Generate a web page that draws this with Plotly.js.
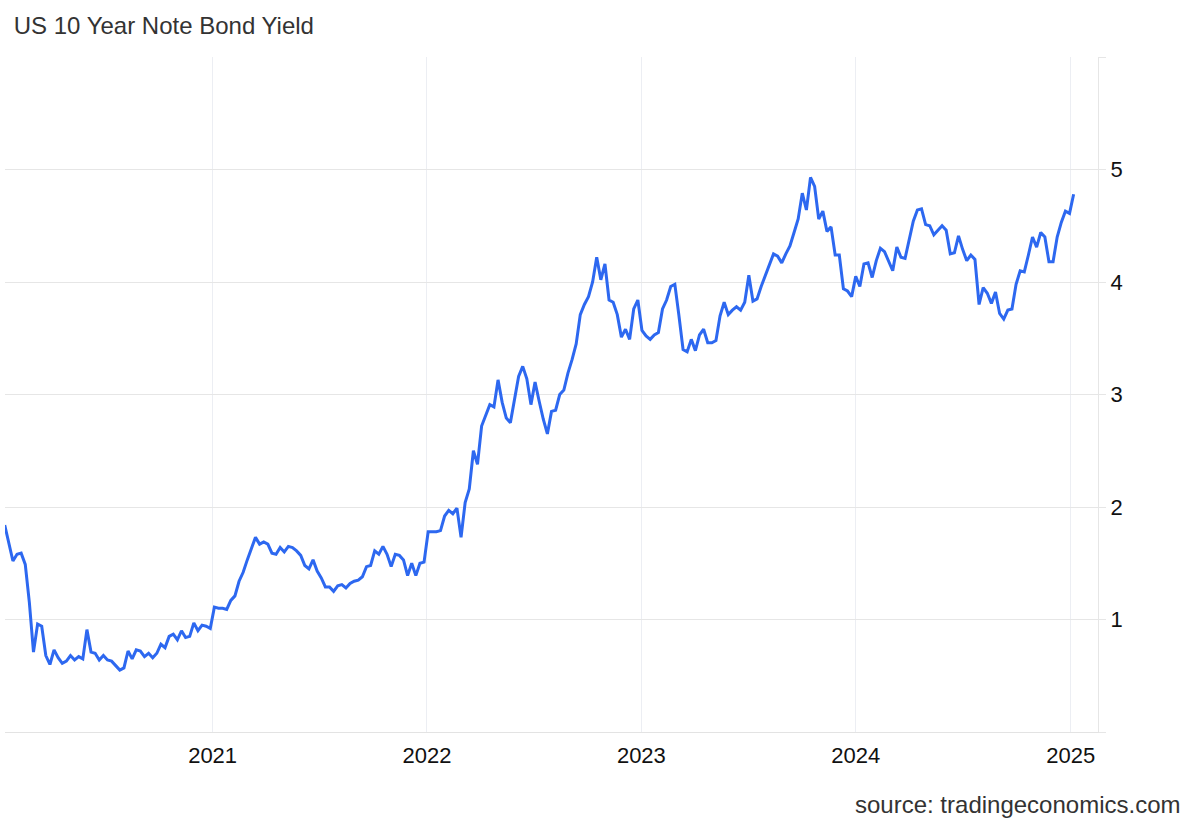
<!DOCTYPE html>
<html>
<head>
<meta charset="utf-8">
<script src="https://cdn.plot.ly/plotly-3.0.1.min.js"></script>
<style>
  html, body { margin: 0; padding: 0; background: #ffffff; }
  #chart { width: 1182px; height: 819px; }
</style>
</head>
<body>
<div id="chart"></div>
<script>
// Weekly US 10Y yield (%), first week starting 2020-01-13
const y2020 = [1.84,1.68,1.52,1.58,1.59,1.49,1.15,0.71,0.96,0.94,0.68,0.60,0.73,0.66,0.61,0.63,0.68,0.64,0.67,0.65,
  0.91,0.71,0.70,0.64,0.68,0.64,0.63,0.59,0.55,0.57,0.72,0.65,0.73,0.72,0.67,0.70,0.66,0.70,0.78,0.75,
  0.85,0.87,0.82,0.90,0.84,0.85,0.97,0.90,0.95,0.94,0.92];
const y2021 = [1.11,1.10,1.10,1.09,1.17,1.21,1.34,1.42,1.53,1.63,1.73,1.67,1.69,1.67,1.59,1.58,1.64,1.60,1.65,1.64,
  1.61,1.57,1.48,1.45,1.53,1.43,1.37,1.29,1.29,1.25,1.30,1.31,1.28,1.32,1.34,1.35,1.38,1.47,1.48,1.61,
  1.58,1.65,1.58,1.47,1.58,1.57,1.53,1.39,1.50,1.39,1.50,1.51];
const y2022 = [1.78,1.78,1.78,1.79,1.92,1.97,1.94,1.99,1.73,2.04,2.16,2.50,2.38,2.72,2.82,2.91,2.89,3.13,2.93,2.79,
  2.75,2.96,3.16,3.25,3.14,2.91,3.11,2.94,2.78,2.65,2.85,2.86,3.00,3.04,3.19,3.31,3.45,3.71,3.80,3.87,
  4.00,4.22,4.02,4.16,3.84,3.82,3.71,3.51,3.58,3.49,3.76,3.84];
const y2023 = [3.57,3.52,3.49,3.53,3.55,3.76,3.84,3.96,3.98,3.70,3.40,3.38,3.49,3.39,3.53,3.58,3.46,3.46,3.48,3.70,
  3.82,3.71,3.75,3.78,3.75,3.82,4.06,3.83,3.85,3.96,4.06,4.16,4.25,4.23,4.17,4.25,4.32,4.44,4.56,4.79,
  4.64,4.93,4.85,4.56,4.63,4.45,4.49,4.24,4.24,3.94,3.92,3.87];
const y2024 = [4.05,3.96,4.16,4.17,4.04,4.19,4.30,4.27,4.19,4.10,4.31,4.22,4.21,4.38,4.54,4.64,4.65,4.51,4.50,4.42,
  4.46,4.50,4.46,4.25,4.26,4.41,4.29,4.19,4.24,4.20,3.80,3.95,3.90,3.81,3.91,3.72,3.67,3.75,3.76,3.98,
  4.10,4.09,4.24,4.40,4.31,4.44,4.40,4.18,4.18,4.40,4.53,4.63];
const y2025 = [4.61,4.78];

const firstWeek = '2020-01-13';
const weekMs = 7 * 24 * 3600 * 1000;
const yields = [].concat(y2020, y2021, y2022, y2023, y2024, y2025);

const xTickVals = ['2021-01-01','2022-01-01','2023-01-01','2024-01-01','2025-01-01'];
const xTickText = ['2021','2022','2023','2024','2025'];
const yTickVals = [0,1,2,3,4,5,6];
const yTickText = ['','1','2','3','4','5',''];

const titleText = 'US 10 Year Note Bond Yield';
const sourceText = 'source: tradingeconomics.com';

const trace = {
  type: 'scatter',
  mode: 'lines',
  x0: firstWeek,
  dx: weekMs,
  y: yields,
  line: { color: '#2d68f0', width: 3, shape: 'linear' },
  hoverinfo: 'x+y'
};

const layout = {
  width: 1182,
  height: 819,
  paper_bgcolor: '#ffffff',
  plot_bgcolor: '#ffffff',
  margin: { l: 5, r: 84, t: 57, b: 87 },
  font: { family: 'Liberation Sans, Arial, Helvetica, sans-serif', color: '#111111' },
  showlegend: false,
  title: {
    text: titleText,
    x: 0.008, xanchor: 'left', xref: 'paper',
    y: 0.969, yanchor: 'middle',
    font: { size: 24, color: '#333333', family: 'Liberation Sans, Arial, sans-serif' }
  },
  xaxis: {
    type: 'date',
    range: ['2020-01-13 12:00', '2025-02-16 12:00'],
    tickmode: 'array',
    tickvals: xTickVals,
    ticktext: xTickText,
    showgrid: true,
    gridcolor: '#eceef3',
    gridwidth: 1,
    showline: true,
    linecolor: '#e3e3e3',
    linewidth: 1,
    zeroline: false,
    ticks: '',
    tickfont: { size: 22, color: '#111111' },
    ticklabelstandoff: 4,
    fixedrange: true
  },
  yaxis: {
    side: 'right',
    range: [0, 6],
    tickmode: 'array',
    tickvals: yTickVals,
    ticktext: yTickText,
    showgrid: true,
    gridcolor: '#e6e6e6',
    gridwidth: 1,
    showline: true,
    linecolor: '#e6e6e6',
    linewidth: 1,
    zeroline: false,
    ticks: 'outside',
    ticklen: 7,
    tickcolor: '#e6e6e6',
    tickfont: { size: 22, color: '#111111' },
    ticklabelstandoff: 0,
    fixedrange: true
  },
  annotations: [{
    text: sourceText,
    xref: 'paper', yref: 'paper',
    x: 1.0765, xanchor: 'right',
    y: -0.108, yanchor: 'middle',
    showarrow: false,
    font: { size: 24, color: '#333333', family: 'Liberation Sans, Arial, sans-serif' }
  }]
};

Plotly.newPlot('chart', [trace], layout, { displayModeBar: false, staticPlot: true });
</script>
</body>
</html>
